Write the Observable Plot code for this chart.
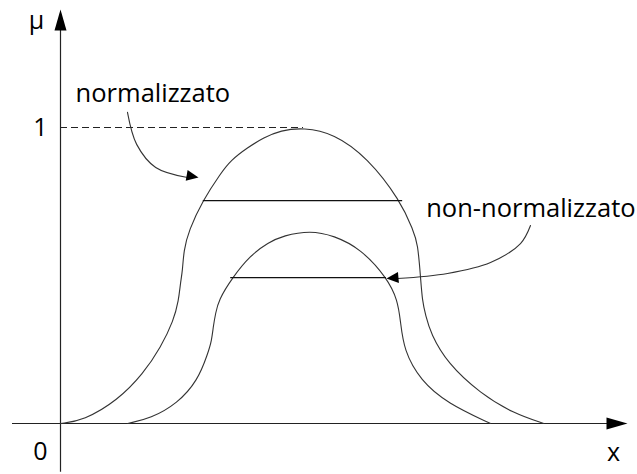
<!DOCTYPE html>
<html>
<head>
<meta charset="utf-8">
<script src="https://cdn.jsdelivr.net/npm/d3@7"></script>
<script src="https://cdn.jsdelivr.net/npm/@observablehq/plot@0.6"></script>
<style>
  html, body { margin: 0; padding: 0; background: #fff; }
  #chart svg { display: block; }
</style>
</head>
<body>
<div id="chart"></div>
<script>
// Normalized fuzzy set (height 1): [x, mu]
const outerX  = [0, 0.41, 1.02, 1.48, 1.79, 2.02, 2.11, 2.14, 2.18, 2.20, 2.29, 2.54, 2.86, 3.04, 3.34, 3.63, 3.93, 4.34, 4.88, 5.48, 6.07, 6.30, 6.38, 6.43, 6.46, 6.52, 6.61, 6.91, 7.50, 8.09, 8.63];
const outerMu = [0, 0.010, 0.078, 0.169, 0.257, 0.348, 0.416, 0.473, 0.517, 0.584, 0.652, 0.753, 0.845, 0.889, 0.932, 0.966, 0.990, 1.0, 0.980, 0.899, 0.753, 0.652, 0.608, 0.493, 0.416, 0.365, 0.304, 0.203, 0.101, 0.034, 0];
// Non-normalized fuzzy set
const innerX  = [1.20, 1.61, 2.09, 2.45, 2.63, 2.70, 2.73, 2.77, 2.82, 3.07, 3.39, 3.71, 3.98, 4.46, 4.88, 5.36, 5.84, 6.02, 6.07, 6.13, 6.43, 6.91, 7.68];
const innerMu = [0, 0.017, 0.068, 0.145, 0.236, 0.280, 0.331, 0.372, 0.416, 0.493, 0.568, 0.611, 0.635, 0.652, 0.635, 0.591, 0.490, 0.416, 0.348, 0.247, 0.145, 0.068, 0];

// horizontal alpha-cut lines: [level, x1, x2]
const cutLevels = [0.753, 0.493];
const cutX1 = [2.55, 3.04];
const cutX2 = [6.11, 5.82];

// axis extents
const axisXStart = -0.857, axisXEnd = 10.125;
const axisYStart = -0.165, axisYEnd = 1.399;
const peakX = 4.34;

// tick labels
const tickLabels = ["0", "1"];
const tickMu = [-0.095, 1.0];

// annotation arrows (path points)
const arrow1X = [1.196, 1.36, 1.70, 2.268];
const arrow1Mu = [1.051, 0.943, 0.865, 0.831];
const arrow1Tip = [2.464, 0.831];
const arrow2X = [8.393, 8.214, 7.679, 6.911, 6.018];
const arrow2Mu = [0.669, 0.608, 0.544, 0.507, 0.490];
const arrow2Tip = [5.821, 0.490];
const labels = ["normalizzato", "non-normalizzato"];
const labelX = [0.27, 6.53];
const labelMu = [1.114, 0.725];

const outer = outerX.map((x, i) => ({x, mu: outerMu[i]}));
const inner = innerX.map((x, i) => ({x, mu: innerMu[i]}));
const cuts = cutLevels.map((mu, i) => ({mu, x1: cutX1[i], x2: cutX2[i]}));
const a1 = arrow1X.map((x, i) => ({x, mu: arrow1Mu[i]}));
const a2 = arrow2X.map((x, i) => ({x, mu: arrow2Mu[i]}));

function head(L, W, deg) {
  const t = deg * Math.PI / 180;
  const dx = Math.sin(t), dy = -Math.cos(t);
  const nx = Math.cos(t), ny = Math.sin(t);
  return {
    draw(ctx) {
      const bx = -L * dx, by = -L * dy;
      ctx.moveTo(0, 0);
      ctx.lineTo(bx + nx * W / 2, by + ny * W / 2);
      ctx.lineTo(bx - nx * W / 2, by - ny * W / 2);
      ctx.closePath();
    }
  };
}

const font = "'Open Sans', 'Noto Sans', sans-serif";
const ink = "#222";

const chart = Plot.plot({
  width: 637,
  height: 474,
  margin: 0,
  x: {domain: [0, 10], range: [60, 620], axis: null},
  y: {domain: [0, 1], range: [423, 127], axis: null},
  style: {fontFamily: font, background: "#fff"},
  marks: [
    // axes
    Plot.ruleX([0], {y1: axisYStart, y2: axisYEnd - 0.05, stroke: ink, strokeWidth: 1.2}),
    Plot.ruleY([0], {x1: axisXStart, x2: axisXEnd - 0.3, stroke: ink, strokeWidth: 1.2}),
    Plot.dot([[0, axisYEnd]], {x: d => d[0], y: d => d[1], symbol: head(21, 12, 0), r: 5, fill: "#000", stroke: "none"}),
    Plot.dot([[axisXEnd, 0]], {x: d => d[0], y: d => d[1], symbol: head(21, 12, 90), r: 5, fill: "#000", stroke: "none"}),
    // dashed line at mu = 1
    Plot.ruleY([1], {x1: 0, x2: peakX, stroke: ink, strokeWidth: 1, strokeDasharray: "7,4"}),
    // curves
    Plot.line(outer, {x: "x", y: "mu", curve: "basis", stroke: "#333", strokeWidth: 1.1}),
    Plot.line(inner, {x: "x", y: "mu", curve: "basis", stroke: "#333", strokeWidth: 1.1}),
    // alpha cuts
    Plot.ruleY(cuts, {y: "mu", x1: "x1", x2: "x2", stroke: "#111", strokeWidth: 1.2}),
    // annotation arrows
    Plot.line(a1, {x: "x", y: "mu", curve: "catmull-rom", stroke: "#333", strokeWidth: 1.1}),
    Plot.dot([arrow1Tip], {x: d => d[0], y: d => d[1], symbol: head(12, 11, 100), r: 5, fill: "#000", stroke: "none"}),
    Plot.line(a2, {x: "x", y: "mu", curve: "catmull-rom", stroke: "#333", strokeWidth: 1.1}),
    Plot.dot([arrow2Tip], {x: d => d[0], y: d => d[1], symbol: head(12, 11, 265), r: 5, fill: "#000", stroke: "none"}),
    // labels
    Plot.text(labels, {x: (d, i) => labelX[i], y: (d, i) => labelMu[i], text: d => d, textAnchor: "start", lineAnchor: "middle", fontSize: 25.5, fill: "#000"}),
    Plot.text(tickLabels, {x: -0.23, y: (d, i) => tickMu[i], text: d => d, textAnchor: "end", lineAnchor: "middle", fontSize: 25, fill: "#000"}),
    Plot.text(["μ"], {x: -0.43, y: 1.36, text: d => d, textAnchor: "middle", lineAnchor: "middle", fontSize: 25, fill: "#000"}),
    Plot.text(["x"], {x: 9.875, y: -0.099, text: d => d, textAnchor: "middle", lineAnchor: "middle", fontSize: 25, fill: "#000"})
  ]
});
document.getElementById("chart").appendChild(chart);
</script>
</body>
</html>
